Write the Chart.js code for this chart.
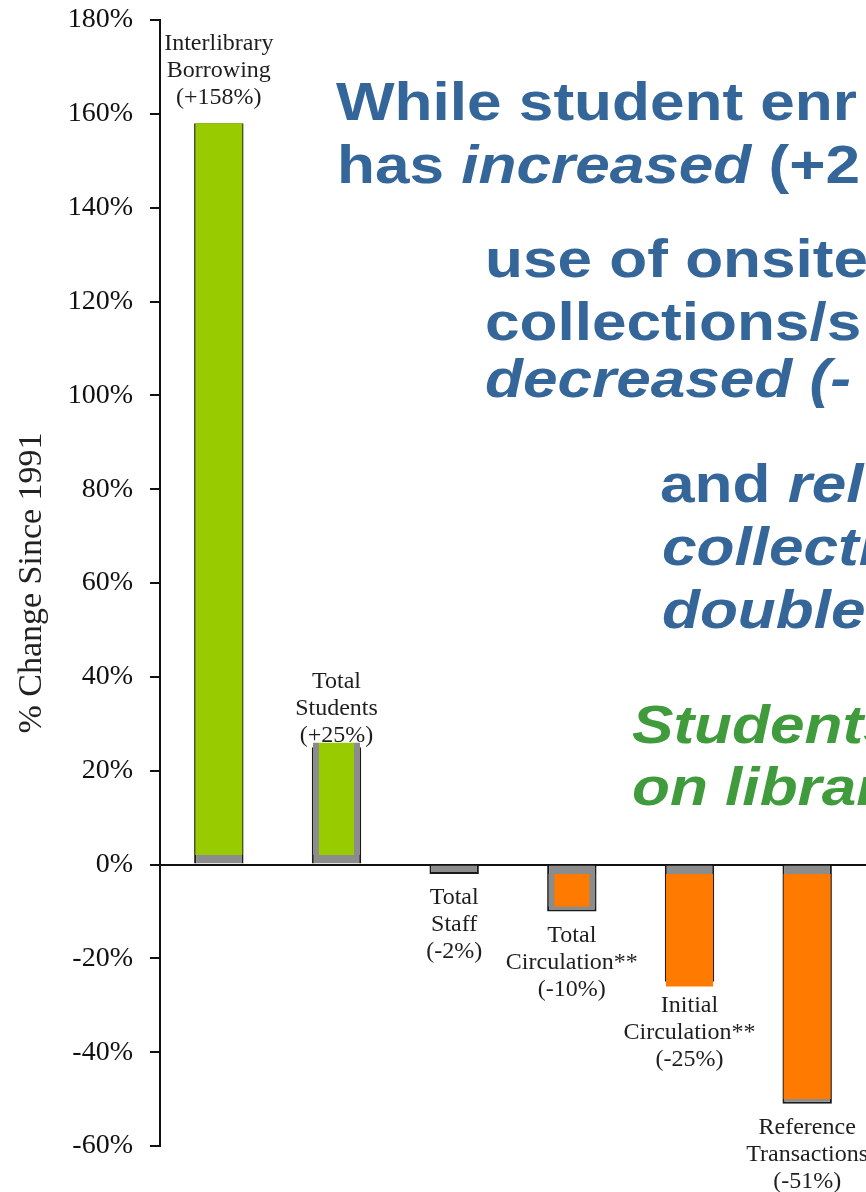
<!DOCTYPE html>
<html>
<head>
<meta charset="utf-8">
<script src="https://cdn.jsdelivr.net/npm/chart.js@4.4.1/dist/chart.umd.min.js"></script>
<style>
body{margin:0;background:#fff;}
#myChart{display:block;}
</style>
</head>
<body>
<canvas id="myChart" width="866" height="1192"></canvas>
<script>
const categories = [
    ['Interlibrary', 'Borrowing'],
    ['Total', 'Students'],
    ['Total', 'Staff'],
    ['Total', 'Circulation**'],
    ['Initial', 'Circulation**'],
    ['Reference', 'Transactions']
]
const changeSince1991 = [158, 25, -2, -10, -25, -51]
// coloured boxes that sit on top of the grey bars in the slide
const highlightFrom = [2, 2, null, -2, -2, -2]
const highlightTo = [158, 26, null, -9, -26, -50]
const yTicks = [-60, -40, -20, 0, 20, 40, 60, 80, 100, 120, 140, 160, 180]

const blue = '#356699'
const green = '#409b3c'

// slide text, cut off by the right edge like in the picture
const slideLines = [
    {x: 336, y: 120, color: blue, runs: [['While student enr', false]]},
    {x: 337, y: 183, color: blue, runs: [['has ', false], ['increased', true], [' (+2', false]]},
    {x: 485, y: 277, color: blue, runs: [['use of onsite', false]]},
    {x: 485, y: 340, color: blue, runs: [['collections/s', false]]},
    {x: 485, y: 397, color: blue, runs: [['decreased (-', true]]},
    {x: 660, y: 502, color: blue, runs: [['and ', false], ['rel', true]]},
    {x: 662, y: 565, color: blue, runs: [['collecti', true]]},
    {x: 662, y: 628, color: blue, runs: [['double', true]]},
    {x: 632, y: 743, color: green, runs: [['Students', true]]},
    {x: 632, y: 805, color: green, runs: [['on librar', true]]}
]

const pctLabel = v => v > 0 ? `(+${v}%)` : `(${v}%)`

const barLabels = {
    id: 'barLabels',
    afterDatasetsDraw(chart) {
        const ctx = chart.ctx
        const meta = chart.getDatasetMeta(0)
        ctx.save()
        ctx.font = '24px "Liberation Serif", serif'
        ctx.fillStyle = '#1e1e1e'
        ctx.textAlign = 'center'
        ctx.textBaseline = 'middle'
        meta.data.forEach((bar, i) => {
            const v = changeSince1991[i]
            const lines = [...categories[i], pctLabel(v)]
            const step = 27
            // the first label sits up against the top of the axis
            const above = i === 0 ? 26 : 12
            const y0 = v > 0 ? bar.y - above - step * (lines.length - 1) : bar.y + 24
            lines.forEach((line, j) => ctx.fillText(line, bar.x, y0 + j * step))
        })
        ctx.restore()
    }
}

const slideText = {
    id: 'slideText',
    afterDraw(chart) {
        const ctx = chart.ctx
        slideLines.forEach(line => {
            ctx.save()
            ctx.translate(line.x, line.y)
            ctx.scale(1.15, 1)
            ctx.fillStyle = line.color
            ctx.textBaseline = 'alphabetic'
            let cx = 0
            line.runs.forEach(([text, italic]) => {
                ctx.font = `${italic ? 'italic ' : ''}bold 54px "Liberation Sans", Arial, sans-serif`
                ctx.fillText(text, cx, 0)
                cx += ctx.measureText(text).width
            })
            ctx.restore()
        })
    }
}

const ctx = document.getElementById('myChart')

const myChart = new Chart(ctx, {
    type: 'bar',
    data: {
        labels: categories,
        datasets: [{
            label: '% Change Since 1991',
            data: changeSince1991,
            backgroundColor: '#8c8c8c',
            borderColor: '#1a1a1a',
            borderWidth: 2,
            barPercentage: 0.42,
            categoryPercentage: 1,
            grouped: false,
            order: 2
        }, {
            label: 'highlight',
            data: highlightFrom.map((f, i) => f === null ? null : [f, highlightTo[i]]),
            backgroundColor: c => changeSince1991[c.dataIndex] > 0 ? '#99cc00' : '#ff7a00',
            // the boxes on Total Students / Total Circulation are narrower than the bar
            borderColor: '#8c8c8c',
            borderWidth: c => (c.dataIndex === 1 || c.dataIndex === 3) ? {left: 6, right: 6, top: 0, bottom: 0} : 0,
            borderSkipped: false,
            barPercentage: 0.40,
            categoryPercentage: 1,
            grouped: false,
            order: 1
        }]
    },
    options: {
        responsive: false,
        animation: false,
        layout: {
            padding: {top: 20, bottom: 46, left: 0, right: 0}
        },
        plugins: {
            legend: {display: false},
            tooltip: {enabled: false}
        },
        scales: {
            x: {
                display: false
            },
            y: {
                min: yTicks[0],
                max: yTicks[yTicks.length - 1],
                afterFit: scale => {
                    scale.width = 160
                    scale.paddingTop = 0
                    scale.paddingBottom = 0
                },
                afterBuildTicks: scale => { scale.ticks = yTicks.map(v => ({value: v})) },
                border: {color: '#111', width: 2},
                grid: {
                    color: c => c.tick && c.tick.value === 0 ? '#111' : 'rgba(0,0,0,0)',
                    tickColor: '#111',
                    tickLength: 10,
                    lineWidth: 2,
                    tickWidth: 2
                },
                ticks: {
                    padding: 17,
                    color: '#111',
                    font: {family: '"Liberation Serif", serif', size: 28},
                    callback: v => `${v}%`
                },
                title: {
                    display: true,
                    text: '% Change Since 1991',
                    color: '#222',
                    font: {family: '"Liberation Serif", serif', size: 34},
                    padding: {top: 12, bottom: 0}
                }
            }
        }
    },
    plugins: [barLabels, slideText]
})
</script>
</body>
</html>
